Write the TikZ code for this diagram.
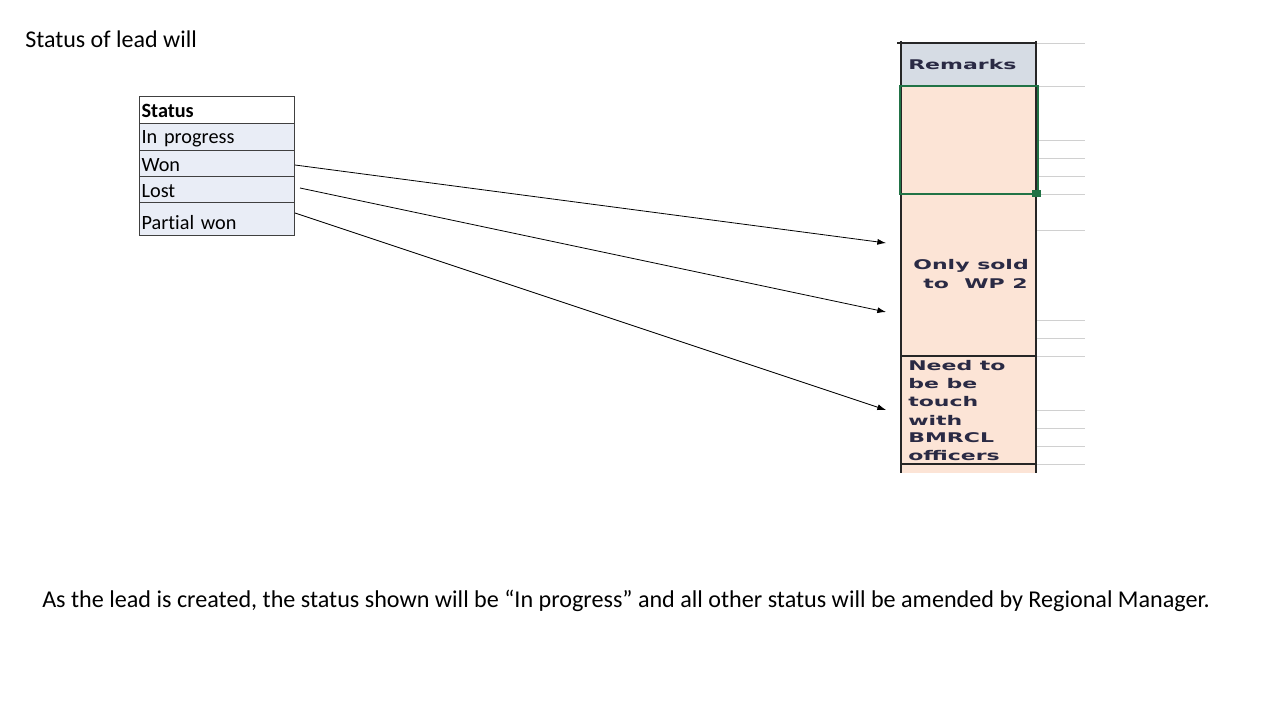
\documentclass[tikz,border=0pt]{standalone}
\usepackage{fontspec}
\setmainfont[Ligatures={NoCommon,NoDiscretionary}]{Carlito}
\newfontfamily\verd{DejaVu Sans}
\usetikzlibrary{arrows.meta}
\definecolor{rowblue}{HTML}{E9EDF6}
\definecolor{hdrgray}{HTML}{D6DCE4}
\definecolor{cellpink}{HTML}{FCE4D6}
\definecolor{gridgray}{HTML}{D0D0D0}
\definecolor{selgreen}{HTML}{217346}
\definecolor{celltext}{HTML}{2A2A44}
\definecolor{tborder}{HTML}{404040}
\newcommand{\xls}[1]{\scalebox{1.65}[1]{\verd\bfseries\fontsize{10}{12}\selectfont #1}}
\newcommand{\lowr}[2]{\raisebox{-#1}[\height][\depth]{#2}}
\tikzset{
  stcell/.style={draw=tborder, line width=0.6pt, rectangle, minimum width=116.25pt,
    text width=113pt, align=left, inner xsep=1.6pt, inner ysep=0pt,
    font=\fontsize{15.2}{17}\selectfont, anchor=north west},
  conn/.style={-{Latex[length=6.5pt,width=4.5pt]}, line width=0.6pt, black},
  xtxt/.style={inner sep=0pt, text=celltext},
  lgrid/.style={draw=gridgray, line width=0.6pt},
  vline/.style={draw=black!85, line width=1.6pt},
}
\begin{document}
\begin{tikzpicture}[x=0.75pt,y=-0.75pt]
\useasboundingbox[fill=white] (0,0) rectangle (1280,720);

% title
\node[anchor=west, inner sep=0pt, font=\fontsize{18}{21}\selectfont] (title) at (25,39) {Status of lead will};

% status table
\node[stcell, fill=white, minimum height=20.25pt] (hstatus) at (139,96) {\lowr{1pt}{\textbf{Status}}};
\node[stcell, fill=rowblue, minimum height=20.25pt] (inprog) at (139,123) {\lowr{1.5pt}{In progress}};
\node[stcell, fill=rowblue, minimum height=19.5pt] (won) at (139,150) {\lowr{1pt}{Won}};
\node[stcell, fill=rowblue, minimum height=19.5pt] (lost) at (139,176) {\lowr{1pt}{Lost}};
\node[stcell, fill=rowblue, minimum height=24.75pt] (partial) at (139,202) {\lowr{3pt}{Partial won}};

% remarks column (spreadsheet excerpt)
\fill[cellpink] (901,86) rectangle (1036,473);
\fill[hdrgray] (901,43) rectangle (1036,86);
\foreach \yy in {43,86,140,158,176,194,230,320,338,356,410,428,446,464}
  \draw[lgrid] (1036,\yy) -- (1085,\yy);
\draw[black!85, line width=1pt] (897,43) -- (1036,43);
\draw[black!85, line width=0.8pt] (901,356) -- (1036,356);
\draw[black!85, line width=0.8pt] (901,464) -- (1036,464);
\draw[vline] (901,41) -- (901,473);
\draw[vline] (1036,41) -- (1036,473);
\draw[selgreen, line width=1.7pt] (900,86) rectangle (1038,194);
\fill[selgreen] (1032,190) rectangle (1041,197);

\node[xtxt, anchor=west] (remarks) at (908,65) {\xls{Remarks}};
\node[xtxt, anchor=east] (only1) at (1029,266) {\xls{Only sold}};
\node[xtxt, anchor=east] (only2) at (1028,284) {\xls{to\ \ WP 2}};
\node[xtxt, anchor=west] (need1) at (908,366) {\xls{Need to}};
\node[xtxt, anchor=west] (need2) at (908,384) {\xls{be be}};
\node[xtxt, anchor=west] (need3) at (908,402) {\xls{touch}};
\node[xtxt, anchor=west] (need4) at (908,420) {\xls{with}};
\node[xtxt, anchor=west] (need5) at (908,438) {\xls{BMRCL}};
\node[xtxt, anchor=west] (need6) at (908,456) {\xls{officers}};

% connectors
\coordinate (wonS) at (295,165);
\coordinate (lostS) at (300,188);
\coordinate (partS) at (295,213);
\coordinate (wonT) at (886,243);
\coordinate (lostT) at (886,312);
\coordinate (partT) at (886,410);
\draw[conn] (wonS) -- (wonT);
\draw[conn] (lostS) -- (lostT);
\draw[conn] (partS) -- (partT);

% bottom note
\node[anchor=west, inner sep=0pt, font=\fontsize{18.1}{21}\selectfont] (note) at (42,601)
  {As the lead is created, the status shown will be “In progress” and all other status will be amended by Regional Manager.};
\end{tikzpicture}
\end{document}
